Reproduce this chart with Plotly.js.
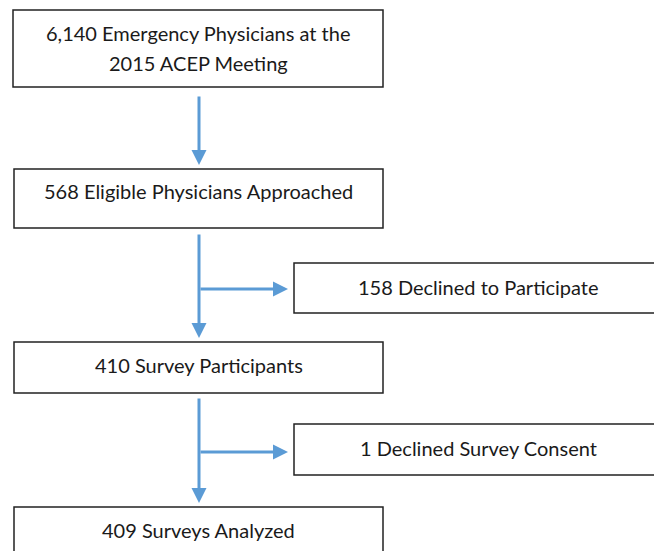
<!DOCTYPE html>
<html>
<head>
<meta charset="utf-8">
<script src="https://cdn.plot.ly/plotly-3.0.1.min.js"></script>
<style>html,body{margin:0;padding:0;background:#fff;}#chart{width:654px;height:551px;}</style>
</head>
<body>
<div id="chart"></div>
<script>
// ---- Data ----
const stageCounts = ["6,140", "568", "410", "409"];
const stageLabels = ["Emergency Physicians at the<br>2015 ACEP Meeting", "Eligible Physicians Approached", "Survey Participants", "Surveys Analyzed"];
const exclusionCounts = ["158", "1"];
const exclusionLabels = ["Declined to Participate", "Declined Survey Consent"];

// ---- Layout geometry (pixel-like coordinates) ----
const mainBoxes = [
  {x0: 13, x1: 383, y0: 10, y1: 87, ty: 48},
  {x0: 14, x1: 383, y0: 169, y1: 228, ty: 191},
  {x0: 14, x1: 383, y0: 342, y1: 393, ty: 365},
  {x0: 14, x1: 383, y0: 507, y1: 570, ty: 530}
];
const sideBoxes = [
  {x0: 294, x1: 662, y0: 263, y1: 313, ty: 287},
  {x0: 294, x1: 662, y0: 424, y1: 475, ty: 448}
];
const downArrows = [
  {x: 199, y0: 95, y1: 165},
  {x: 199, y0: 233, y1: 338},
  {x: 199, y0: 397, y1: 503}
];
const sideArrows = [
  {y: 289, x0: 199, x1: 288},
  {y: 452, x0: 199, x1: 288}
];
const lineGap = 30;

const blue = "#5B9BD5";
const font = {family: "Lato, 'Open Sans', sans-serif", size: 20, color: "#1a1a1a"};

const shapes = [];
const annotations = [];

function addText(cx, cy, txt) {
  const lines = txt.split("<br>");
  const start = cy - (lines.length - 1) * lineGap / 2;
  lines.forEach((ln, k) => {
    annotations.push({xref: "x", yref: "y", x: cx, y: start + k * lineGap, showarrow: false,
      text: ln, font: font, align: "center", yanchor: "middle"});
  });
}

mainBoxes.forEach((b, i) => {
  shapes.push({type: "rect", xref: "x", yref: "y", x0: b.x0, x1: b.x1, y0: b.y0, y1: b.y1,
    line: {color: "#222", width: 1.5}, fillcolor: "rgba(0,0,0,0)"});
  addText((b.x0 + b.x1) / 2, b.ty, stageCounts[i] + " " + stageLabels[i]);
});
sideBoxes.forEach((b, i) => {
  shapes.push({type: "rect", xref: "x", yref: "y", x0: b.x0, x1: b.x1, y0: b.y0, y1: b.y1,
    line: {color: "#222", width: 1.5}, fillcolor: "rgba(0,0,0,0)"});
  addText((b.x0 + b.x1) / 2, b.ty, exclusionCounts[i] + " " + exclusionLabels[i]);
});
downArrows.forEach(a => {
  annotations.push({xref: "x", yref: "y", axref: "x", ayref: "y", x: a.x, y: a.y1, ax: a.x, ay: a.y0,
    text: "", showarrow: true, arrowhead: 2, arrowsize: 1, arrowwidth: 3, arrowcolor: blue, standoff: 0});
});
sideArrows.forEach(a => {
  annotations.push({xref: "x", yref: "y", axref: "x", ayref: "y", x: a.x1, y: a.y, ax: a.x0, ay: a.y,
    text: "", showarrow: true, arrowhead: 2, arrowsize: 1, arrowwidth: 3, arrowcolor: blue, standoff: 0});
});

const layout = {
  width: 654, height: 551,
  margin: {l: 0, r: 0, t: 0, b: 0},
  paper_bgcolor: "#fff", plot_bgcolor: "#fff",
  xaxis: {range: [0, 654], visible: false, fixedrange: true},
  yaxis: {range: [551, 0], visible: false, fixedrange: true},
  showlegend: false,
  shapes: shapes,
  annotations: annotations
};

Plotly.newPlot("chart", [{x: [], y: [], type: "scatter", mode: "markers", hoverinfo: "skip"}], layout, {staticPlot: true, displayModeBar: false});
</script>
</body>
</html>
